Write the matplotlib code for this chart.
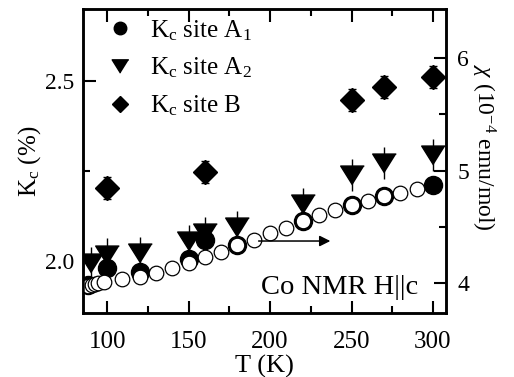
import matplotlib
matplotlib.use('Agg')
import matplotlib.pyplot as plt
from matplotlib.lines import Line2D
from matplotlib.ticker import MultipleLocator, FormatStrFormatter

plt.rcParams['font.family'] = ['Liberation Serif', 'DejaVu Serif']
plt.rcParams['mathtext.fontset'] = 'custom'
plt.rcParams['mathtext.rm'] = 'Liberation Serif'
plt.rcParams['mathtext.it'] = 'Liberation Serif:italic'
plt.rcParams['mathtext.bf'] = 'Liberation Serif:bold'

# ---- data ----
T_chi = [88, 90.5, 92.5, 94.5, 98, 109, 120, 130, 140, 150, 160, 170, 180, 190,
         200, 210, 220, 230, 240, 250, 260, 270, 280, 290]
chi = [3.97, 3.98, 3.99, 4.0, 4.01, 4.035, 4.053, 4.089, 4.133, 4.178, 4.231, 4.276,
       4.338, 4.382, 4.444, 4.489, 4.551, 4.604, 4.649, 4.693, 4.729, 4.773, 4.800, 4.836]

T_A1 = [88, 100, 120, 150, 160, 180, 220, 250, 270, 300]
K_A1 = [1.935, 1.982, 1.969, 2.005, 2.06, 2.044, 2.111, 2.156, 2.181, 2.211]

T_A2 = [90, 100, 120, 150, 160, 180, 220, 250, 270, 300]
K_A2 = [1.994, 2.018, 2.022, 2.055, 2.078, 2.095, 2.158, 2.239, 2.272, 2.294]
E_A2 = [0.045] * 10

T_B = [100, 160, 250, 270, 300]
K_B = [2.203, 2.247, 2.447, 2.483, 2.511]
E_B = [0.03, 0.03, 0.03, 0.03, 0.03]

arrow_T = (193, 237)
arrow_chi = 4.373

legend_labels = [r'K$_\mathregular{c}$ site A$_\mathregular{1}$',
                 r'K$_\mathregular{c}$ site A$_\mathregular{2}$',
                 r'K$_\mathregular{c}$ site B']

# ---- figure ----
fig = plt.figure(figsize=(5.14, 3.77), dpi=100)
ax = fig.add_axes([83/514, 1-313/377, (446-83)/514, (313-9)/377])
ax2 = ax.twinx()

tri = [(0, -0.8), (-1, 0.8), (1, 0.8)]

ax.plot(T_A1, K_A1, 'o', color='k', ms=13, mec='k', zorder=2)
ax.errorbar(T_A2, K_A2, yerr=E_A2, fmt='none', ecolor='k', elinewidth=1.0, capsize=0, zorder=3)
ax.plot(T_A2, K_A2, ls='none', marker=tri, color='k', ms=17, zorder=4)
ax.errorbar(T_B, K_B, yerr=E_B, fmt='none', ecolor='k', elinewidth=1.0, capsize=3, capthick=1.0, zorder=3)
ax.plot(T_B, K_B, 'D', color='k', ms=12.5, zorder=4)

ax2.plot(T_chi, chi, 'o', mfc='white', mec='k', ms=10.5, mew=0.9)
ax2.annotate('', xy=(arrow_T[1], arrow_chi), xytext=(arrow_T[0], arrow_chi),
             arrowprops=dict(arrowstyle='-|>', color='k', lw=1.1, mutation_scale=16,
                             shrinkA=0, shrinkB=0))

ax.set_xlim(85.2, 308)
ax.set_ylim(1.856, 2.70)
ax2.set_ylim(3.733, 6.436)

ax.xaxis.set_major_locator(MultipleLocator(50))
ax.xaxis.set_minor_locator(MultipleLocator(25))
ax.yaxis.set_major_locator(MultipleLocator(0.5))
ax.yaxis.set_minor_locator(MultipleLocator(0.25))
ax.yaxis.set_major_formatter(FormatStrFormatter('%.1f'))
ax2.yaxis.set_major_locator(MultipleLocator(1))
ax2.yaxis.set_minor_locator(MultipleLocator(0.5))

ax.tick_params(which='both', direction='in', top=True, right=False, width=1.5)
ax.tick_params(which='major', length=9)
ax.tick_params(which='minor', length=5)
ax.tick_params(axis='x', pad=13, labelsize=18)
ax.tick_params(axis='y', pad=6.5, labelsize=17)
ax2.tick_params(which='both', direction='in', width=1.5, labelsize=17, pad=8)
ax2.tick_params(which='major', length=9)
ax2.tick_params(which='minor', length=5)

for a in (ax, ax2):
    for s in a.spines.values():
        s.set_linewidth(1.8)

ax.set_xlabel('T (K)', fontsize=19, labelpad=1.5)
ax.set_ylabel(r'K$_\mathregular{c}$ (%)', fontsize=18, labelpad=1)
ax2.set_ylabel(r'$\chi$ (10$^\mathregular{-4}$ emu/mol)', fontsize=17, rotation=270)
ax2.yaxis.set_label_coords(1.14, 0.545)

ax.text(0.923, 0.085, 'Co NMR H||c', transform=ax.transAxes, fontsize=20.5,
        ha='right', va='center')

handles = [Line2D([], [], ls='none', marker='o', color='k', ms=9),
           Line2D([], [], ls='none', marker=tri, color='k', ms=12),
           Line2D([], [], ls='none', marker='D', color='k', ms=8.5)]
ax.legend(handles, legend_labels, loc='upper left', bbox_to_anchor=(0.04, 1.003),
          frameon=False, fontsize=18, handlelength=1.0, handletextpad=0.7,
          labelspacing=0.52, borderaxespad=0)

fig.savefig('out.png', dpi=100)
